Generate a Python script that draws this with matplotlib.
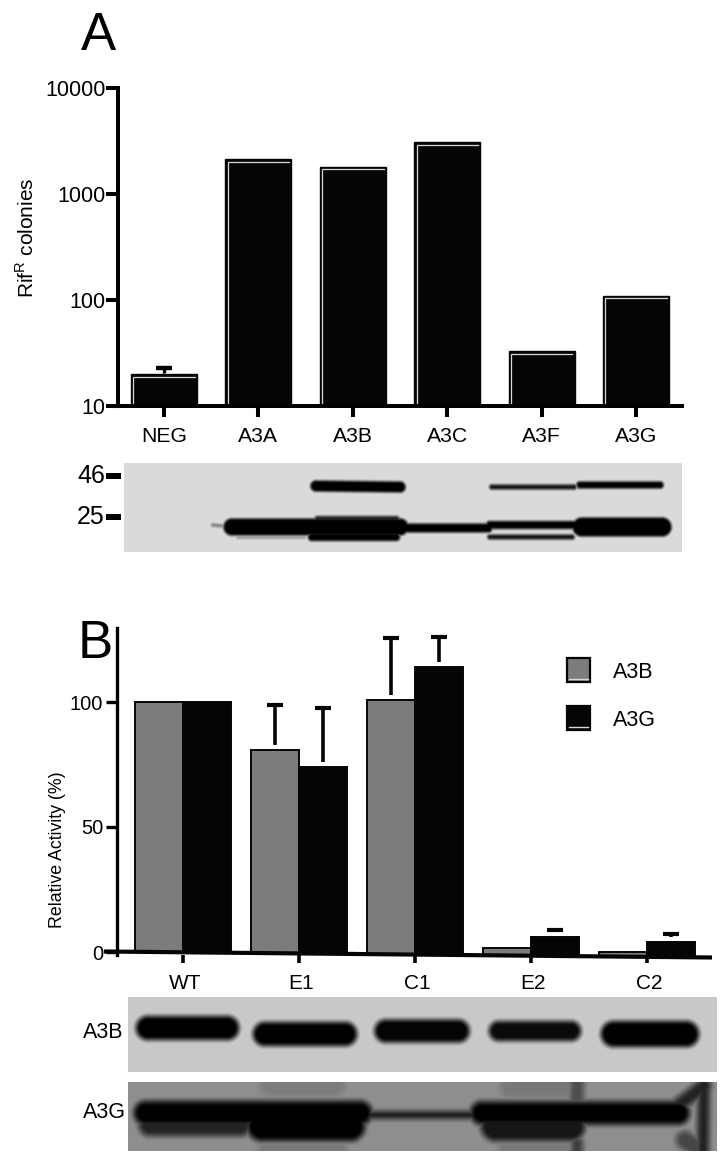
import numpy as np
import matplotlib
matplotlib.use('Agg')
import matplotlib.pyplot as plt
from matplotlib.patches import Rectangle
from matplotlib.transforms import ScaledTranslation

plt.rcParams['font.family'] = ['Liberation Sans', 'DejaVu Sans']

W, H = 727, 1162
BLACK = '#050505'

# panel A
samples_a = ['NEG', 'A3A', 'A3B', 'A3C', 'A3F', 'A3G']
colonies = [20, 2130, 1800, 3090, 33, 110]
neg_err = 23
yticks_a = [10, 100, 1000, 10000]

# panel B
samples_b = ['WT', 'E1', 'C1', 'E2', 'C2']
a3b_activity = [100, 81, 101, 1.5, 0]
a3g_activity = [100, 74, 114, 6, 4]
a3b_upper = [None, 99, 125.5, None, None]
a3g_upper = [None, 97.5, 126, 9, 7.2]
base_b = [-0.1, -0.6, -1.0, -1.5, -1.9]
yticks_b = [0, 50, 100]

# western blots, pixel positions on the page: x0, y0, x1, y1, thickness, darkness
blot_top = [
    (316, 486, 400, 487, 11, 1.0), (492, 487, 574, 487, 5, 0.9), (580, 485, 660, 485, 7, 1.0),
    (232, 527, 400, 527, 17, 1.0), (318, 520, 396, 520, 8, 0.85), (400, 528, 488, 528, 9, 1.0),
    (490, 525, 578, 525, 8, 1.0), (582, 527, 662, 527, 19, 1.0), (213, 525, 232, 527, 3, 0.45),
    (238, 537, 304, 537, 3, 0.35), (312, 537, 396, 537, 8, 1.0), (490, 537, 572, 537, 5, 0.9),
]
blot_a3b = [
    (148, 1028, 227, 1028, 24, 1.0), (265, 1034, 345, 1034, 24, 1.0),
    (386, 1031, 458, 1031, 23, 0.98), (499, 1031, 571, 1031, 20, 0.95),
    (614, 1034, 686, 1034, 26, 1.0),
]
blot_a3g = [
    (146, 1113, 360, 1113, 24, 1.0), (360, 1115, 482, 1115, 7, 0.9), (482, 1113, 678, 1113, 23, 1.0),
    (150, 1125, 240, 1125, 22, 0.75), (262, 1126, 350, 1126, 30, 1.0), (496, 1126, 570, 1126, 30, 0.85),
    (577, 1082, 577, 1100, 14, 0.45), (577, 1143, 577, 1151, 12, 0.55),
    (704, 1082, 703, 1151, 12, 0.75), (672, 1110, 704, 1086, 14, 0.75), (685, 1140, 700, 1150, 18, 0.5),
    (270, 1086, 335, 1086, 20, 0.12), (265, 1148, 340, 1148, 14, 0.15),
    (510, 1088, 570, 1088, 20, 0.15), (505, 1148, 570, 1148, 14, 0.15),
]


def px_axes(fig, left, top, right, bottom):
    return fig.add_axes([left / W, 1 - bottom / H, (right - left) / W, (bottom - top) / H])


def draw_blot(ax, rect, bands, grey, blur=4.0):
    x0, y0, x1, y1 = rect
    xx, yy = np.meshgrid(np.arange(x0, x1) + 0.5, np.arange(y0, y1) + 0.5)
    dark = np.zeros(xx.shape)
    for ax0, ay0, ax1, ay1, thick, level in bands:
        # distance to the band centre line, soft edge so it looks like film
        dx, dy = ax1 - ax0, ay1 - ay0
        t = np.clip(((xx - ax0) * dx + (yy - ay0) * dy) / max(dx * dx + dy * dy, 1e-6), 0, 1)
        d = np.hypot(xx - ax0 - t * dx, yy - ay0 - t * dy)
        edge = np.clip((thick / 2 + blur / 2 - d) / blur, 0, 1)
        dark = np.maximum(dark, level * edge * edge * (3 - 2 * edge))
    ax.imshow(grey * (1 - dark), cmap='gray', vmin=0, vmax=255, aspect='auto',
              extent=(x0, x1, y1, y0), interpolation='bilinear', zorder=1)


fig = plt.figure(figsize=(W / 100, H / 100), dpi=100)

# page overlay for gels and loose labels, in pixels
page = fig.add_axes([0, 0, 1, 1])

draw_blot(page, (124, 463, 682, 552), blot_top, 218, blur=5.0)
draw_blot(page, (128, 997, 717, 1072), blot_a3b, 200, blur=9.0)
draw_blot(page, (128, 1082, 717, 1151), blot_a3g, 142, blur=11.0)
page.set_xlim(0, W)
page.set_ylim(H, 0)
page.axis('off')

page.text(81, 36, 'A', fontsize=38, va='center')
page.text(78, 644, 'B', fontsize=38, va='center')
page.text(27, 238, 'Rif$^{\\mathregular{R}}$ colonies', fontsize=15, rotation=90,
          ha='center', va='center')
page.text(57, 850, 'Relative Activity (%)', fontsize=12.8, rotation=90, ha='center', va='center')
for label, y in [('46', 476), ('25', 517)]:
    page.text(77, y, label, fontsize=18, va='center')
    page.add_patch(Rectangle((106, y - 3), 15, 6, fc='black', ec='none'))
page.text(83, 1033, 'A3B', fontsize=15.5, va='center')
page.text(83, 1113, 'A3G', fontsize=15.5, va='center')

# panel A bars
ax = px_axes(fig, 118, 88, 682, 406)
spacing = 94.4
ax.set_xlim((118 - 164) / spacing, (682 - 164) / spacing)
ax.set_yscale('log')
ax.set_ylim(10, 10000)
ax.patch.set_alpha(0)
pos = np.arange(len(samples_a))
bw = 0.7
ax.bar(pos, colonies, width=bw, color=BLACK, edgecolor=BLACK, lw=1)
inset = ax.transData + ScaledTranslation(2.5 / 100, -2.5 / 100, fig.dpi_scale_trans)
for p, v in zip(pos, colonies):
    ax.plot([p - bw / 2, p - bw / 2, p + bw / 2 - 0.05], [10, v, v], color='#d8d8d8', lw=0.9,
            transform=inset, solid_joinstyle='miter')
ax.vlines(0, 20.5, neg_err, color=BLACK, lw=2.4)
ax.plot([-0.08, 0.08], [neg_err, neg_err], color=BLACK, lw=3.2, solid_capstyle='butt')
ax.set_xticks(pos, samples_a)
ax.set_yticks(yticks_a, [str(t) for t in yticks_a])
ax.minorticks_off()
ax.tick_params(axis='y', length=9, width=2.9, labelsize=15.5, pad=0)
ax.tick_params(axis='x', length=8, width=2.9, labelsize=15.2, pad=7)
for side in ['top', 'right']:
    ax.spines[side].set_visible(False)
for side in ['left', 'bottom']:
    ax.spines[side].set_linewidth(2.9)

# panel B bars
ax2 = px_axes(fig, 117, 628, 712, 955)
centers = np.arange(len(samples_b))
spacing_b = 116.0
ax2.set_xlim((117 - 183) / spacing_b, (712 - 183) / spacing_b)
ax2.set_ylim(-1.2, 129.6)
ax2.patch.set_alpha(0)
bw2 = 0.41
for name, vals, uppers, side, col in [('A3B', a3b_activity, a3b_upper, -1, '#7c7c7c'),
                                      ('A3G', a3g_activity, a3g_upper, 1, BLACK)]:
    xs = centers + side * bw2 / 2
    ax2.bar(xs, np.array(vals) - np.array(base_b), bottom=base_b, width=bw2, color=col,
            edgecolor=BLACK, lw=1.4, clip_on=False, label=name)
    for x, v, u in zip(xs, vals, uppers):
        if u is None:
            continue
        ax2.vlines(x, v + 2, u, color=BLACK, lw=2.6)
        ax2.plot([x - 0.07, x + 0.07], [u, u], color=BLACK, lw=3, solid_capstyle='butt')
ax2.set_xticks(centers, samples_b)
ax2.set_yticks(yticks_b, [str(t) for t in yticks_b])
ax2.tick_params(axis='y', length=8, width=2.4, labelsize=14.5, pad=2)
ax2.tick_params(axis='x', length=6, width=2.6, labelsize=15, pad=8)
shift = ScaledTranslation(2 / 100, 0, fig.dpi_scale_trans)
for lab in ax2.get_xticklabels():
    lab.set_transform(lab.get_transform() + shift)
for side in ['top', 'right', 'bottom']:
    ax2.spines[side].set_visible(False)
ax2.spines['left'].set_linewidth(2.4)

page_top = fig.add_axes([0, 0, 1, 1], sharex=page, sharey=page)
page_top.axis('off')
page_top.plot([104, 712], [951.5, 957.5], color=BLACK, lw=3, solid_capstyle='butt')

# hand-made legend, as in the original figure
for y, col, label in [(658, '#7c7c7c', 'A3B'), (706, BLACK, 'A3G')]:
    page_top.add_patch(Rectangle((567, y), 23, 24, fc=col, ec=BLACK, lw=1.6))
    page_top.plot([569, 588], [y + 21, y + 21], color='#d8d8d8', lw=1)
    page_top.text(613, y + 15, label, fontsize=15.5, va='center')

fig.savefig('out.png', dpi=100)
